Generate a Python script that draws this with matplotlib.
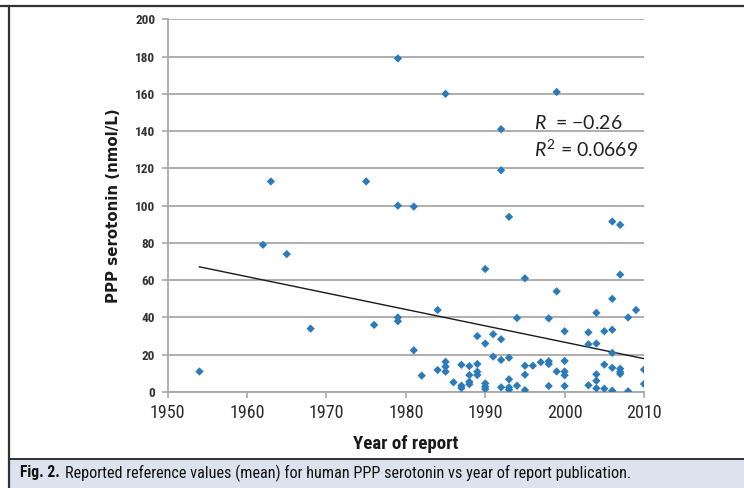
import matplotlib
matplotlib.use("Agg")
import matplotlib.pyplot as plt
from matplotlib import font_manager
from matplotlib.lines import Line2D
from matplotlib.patches import Rectangle
import numpy as np

# values (year of report, mean PPP serotonin nmol/L)
years = [1954, 1962, 1963, 1965, 1968, 1975, 1976,
         1979, 1979, 1979, 1979, 1981, 1981, 1982,
         1984, 1984, 1985, 1985, 1985, 1985, 1986,
         1987, 1987, 1987, 1988, 1988, 1988, 1988,
         1989, 1989, 1989, 1989,
         1990, 1990, 1990, 1990, 1990, 1991, 1991,
         1992, 1992, 1992, 1992, 1992,
         1993, 1993, 1993, 1993, 1993, 1994, 1994,
         1995, 1995, 1995, 1995, 1996, 1997,
         1998, 1998, 1998, 1998, 1999, 1999, 1999,
         2000, 2000, 2000, 2000, 2000,
         2003, 2003, 2003, 2004, 2004, 2004, 2004, 2004,
         2005, 2005, 2005,
         2006, 2006, 2006, 2006, 2006, 2006,
         2007, 2007, 2007, 2007, 2007,
         2008, 2008, 2009, 2010, 2010]
serotonin = [11, 79, 113, 74, 34, 113, 36,
             179, 100, 40, 38, 99.5, 22.4, 8.8,
             44, 11.8, 160, 16.2, 13.6, 10.9, 5.2,
             14.6, 3.4, 2.1, 13.9, 9.1, 5.5, 4.2,
             30, 15, 10.9, 9.1,
             66, 26, 4.6, 2.9, 1.6, 31, 19,
             141, 119, 28.3, 17.2, 2.5,
             94, 18.4, 6.8, 2.5, 1.2, 39.7, 3.4,
             61, 14.1, 9.3, 1, 14.1, 16,
             39.5, 16.5, 15, 3.2, 161, 54, 11,
             32.6, 16.7, 11, 9, 3.2,
             32, 25.6, 3.6, 42.5, 26, 9.5, 6, 2,
             32.6, 14.7, 1.8,
             91.5, 50, 33.4, 21, 13, 0.7,
             89.7, 63, 12.5, 10.8, 9.7,
             40, 0.4, 44, 12, 4.3]
x_ticks = [1950, 1960, 1970, 1980, 1990, 2000, 2010]
y_ticks = [0, 20, 40, 60, 80, 100, 120, 140, 160, 180, 200]

# pick a narrow font if one is around
installed = {f.name for f in font_manager.fontManager.ttflist}
narrow = 'DejaVu Sans'
for name in ['Liberation Sans Narrow', 'Roboto Condensed', 'DejaVu Sans Condensed', 'Open Sans Condensed',
             'Roboto', 'Lato']:
    if name in installed:
        narrow = name
        break

plt.rcParams['mathtext.fontset'] = 'custom'
plt.rcParams['mathtext.rm'] = 'Lato'
plt.rcParams['mathtext.it'] = 'Lato:italic'

fig = plt.figure(figsize=(7.44, 4.88), dpi=100)

# outer frame and caption band
fig.patches.append(Rectangle((9 / 744, 0), 735 / 744, 29 / 488, transform=fig.transFigure,
                             facecolor='#dde3ee', edgecolor='none', zorder=0))
fig.lines.append(Line2D([0, 1], [1 - 5.5 / 488] * 2, transform=fig.transFigure, color='#333333', lw=1.6))
fig.lines.append(Line2D([9 / 744] * 2, [0, 1 - 5.5 / 488], transform=fig.transFigure, color='#333333', lw=1.6))
fig.lines.append(Line2D([9 / 744, 1], [29 / 488] * 2, transform=fig.transFigure, color='#333333', lw=1.4))

ax = fig.add_axes([167.7 / 744, 1 - 392 / 488, 476.3 / 744, 372.7 / 488])

ax.scatter(years, serotonin, marker='D', s=18, color='#2b7bba', edgecolors='none', zorder=3)

# linear trend
slope, icpt = np.polyfit(years, serotonin, 1)
xs = np.array([min(years), max(years)])
ax.plot(xs, slope * xs + icpt, color='#1a1a1a', lw=1.0, zorder=2)

ax.set_xlim(1950, 2010)
ax.set_ylim(0, 200)
ax.set_xticks(x_ticks)
ax.set_yticks(y_ticks)
ax.yaxis.grid(True, color='#a8a8a8', lw=1.3)
ax.set_axisbelow(True)
for s in ['top', 'right']:
    ax.spines[s].set_visible(False)
for s in ['left', 'bottom']:
    ax.spines[s].set_color('#a8a8a8')
    ax.spines[s].set_linewidth(1.3)
ax.tick_params(axis='both', color='#a8a8a8', length=4, width=1.2)
ax.tick_params(axis='x', pad=5)
ax.tick_params(axis='y', pad=5)
for lab in ax.get_xticklabels():
    lab.set_fontfamily(narrow)
    lab.set_fontsize(13)
    lab.set_color('#2a2a2a')
for lab in ax.get_yticklabels():
    lab.set_fontfamily(narrow)
    lab.set_fontsize(9.5)
    lab.set_fontweight('bold')
    lab.set_color('#333333')

xl = ax.set_xlabel('Year of report', fontsize=12, fontweight='bold', family=narrow, labelpad=9, color='#1a1a1a')
ax.set_ylabel('PPP serotonin (nmol/L)', fontsize=10.8, fontweight='bold', family='DejaVu Sans', labelpad=10,
              color='#1a1a1a')

ax.text(0.77, 0.705, r'$R$  = $-$0.26', transform=ax.transAxes, fontsize=14, family='Lato', color='#222222')
ax.text(0.77, 0.630, r'$R^2$ = 0.0669', transform=ax.transAxes, fontsize=14, family='Lato', color='#222222')

t1 = fig.text(20 / 744, 15 / 488, 'Fig. 2.', fontsize=10.5, fontweight='bold', family=narrow, va='center',
              color='#111111')
t2 = fig.text(65 / 744, 15 / 488,
              'Reported reference values (mean) for human PPP serotonin vs year of report publication.',
              fontsize=10.5, family=narrow, va='center', color='#111111')


def fit_width(txt, target_px):
    r = fig.canvas.get_renderer()
    w = txt.get_window_extent(r).width
    txt.set_fontsize(txt.get_fontsize() * target_px / w)


fig.canvas.draw()
fit_width(t1, 40)
fit_width(t2, 572)
fit_width(xl, 105)

fig.savefig('out.png', dpi=100)
